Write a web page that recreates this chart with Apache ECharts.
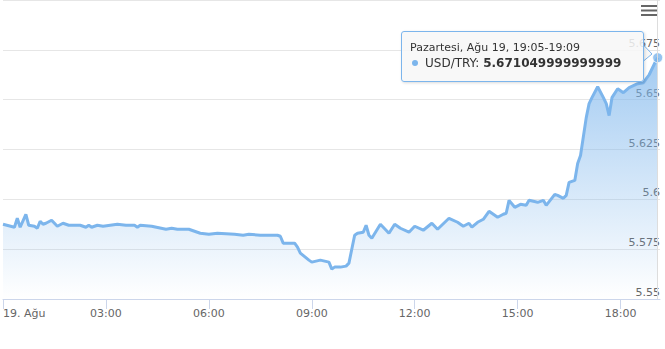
<!DOCTYPE html>
<html>
<head>
<meta charset="utf-8">
<script src="https://cdn.jsdelivr.net/npm/echarts@6/dist/echarts.min.js"></script>
<style>
html,body{margin:0;padding:0;background:#fff;}
#chart{width:665px;height:349px;}
</style>
</head>
<body>
<div id="chart"></div>
<script>
// ---- data (USD/TRY, 19 Ağu) ----
const times = ["00:00","00:20","00:25","00:30","00:40","00:45","00:55","01:00","01:05","01:10","01:15","01:25","01:35","01:45","01:55","02:15","02:25","02:30","02:35","02:45","02:55","03:20","03:35","03:50","03:55","04:00","04:20","04:45","04:55","05:05","05:25","05:35","05:45","06:00","06:15","06:45","07:00","07:10","07:30","08:00","08:05","08:10","08:30","08:35","08:40","08:55","09:00","09:15","09:30","09:35","09:40","09:50","10:00","10:05","10:15","10:20","10:30","10:35","10:40","10:45","11:00","11:15","11:25","11:35","11:50","12:00","12:15","12:30","12:40","13:00","13:15","13:25","13:35","13:40","13:50","14:00","14:10","14:25","14:35","14:40","14:45","14:55","15:05","15:15","15:20","15:35","15:45","15:50","16:05","16:10","16:20","16:25","16:30","16:40","16:45","16:50","17:00","17:05","17:10","17:20","17:30","17:35","17:40","17:45","17:55","18:05","18:15","18:30","18:40","18:50","19:00","19:05"];
const values = [5.5875,5.586,5.5905,5.586,5.5925,5.587,5.5865,5.5855,5.589,5.5875,5.588,5.5895,5.5865,5.588,5.587,5.587,5.586,5.587,5.586,5.587,5.5865,5.5875,5.587,5.587,5.586,5.587,5.5865,5.585,5.5855,5.585,5.585,5.584,5.583,5.5825,5.583,5.5825,5.582,5.5825,5.582,5.582,5.5815,5.578,5.578,5.576,5.573,5.5695,5.5685,5.5695,5.5685,5.565,5.566,5.566,5.5665,5.568,5.582,5.583,5.5835,5.587,5.582,5.5805,5.5875,5.583,5.5875,5.5855,5.5835,5.5865,5.5845,5.588,5.585,5.5905,5.5885,5.5865,5.588,5.586,5.5885,5.59,5.594,5.591,5.5925,5.593,5.5995,5.596,5.5975,5.597,5.5995,5.5985,5.5995,5.597,5.6025,5.602,5.6005,5.602,5.6085,5.6095,5.618,5.622,5.641,5.648,5.651,5.6565,5.651,5.648,5.642,5.651,5.6555,5.6535,5.656,5.658,5.6585,5.6625,5.6685,5.671049999999999];
const xTickLabels = ["19. Ağu","03:00","06:00","09:00","12:00","15:00","18:00"];
const seriesName = "USD/TRY";
const tooltipHeader = "Pazartesi, Ağu 19, 19:05-19:09";
const xMaxTime = "19:09";
const yMin = 5.55, yMax = 5.7, yStep = 0.025;

const toMin = s => { const p = s.split(":"); return (+p[0]) * 60 + (+p[1]); };
const seriesData = times.map((t, i) => [toMin(t), values[i]]);
const last = seriesData[seriesData.length - 1];
const FONT = "'DejaVu Sans', sans-serif";

const chart = echarts.init(document.getElementById('chart'), null, {renderer: 'svg'});
chart.setOption({
  animation: false,
  backgroundColor: '#ffffff',
  grid: {left: 1, right: 5, top: -1, bottom: 50, containLabel: false},
  xAxis: {
    type: 'value', min: 0, max: toMin(xMaxTime), interval: 180,
    axisLine: {show: true, lineStyle: {color: '#ccd6eb', width: 1}},
    axisTick: {show: true, length: 10, lineStyle: {color: '#ccd6eb'}},
    splitLine: {show: false},
    axisLabel: {
      color: '#666666', fontSize: 11, fontFamily: FONT, margin: 9,
      showMaxLabel: false, alignMinLabel: 'left',
      formatter: v => { const i = Math.round(v / 180); return (v % 180 === 0 && xTickLabels[i]) ? xTickLabels[i] : ''; }
    }
  },
  yAxis: {
    type: 'value', position: 'right', min: yMin, max: yMax, interval: yStep,
    axisLine: {show: false}, axisTick: {show: false},
    splitLine: {show: true, lineStyle: {color: '#e6e6e6', width: 1}},
    axisLabel: {
      inside: true, color: '#666666', fontSize: 11, fontFamily: FONT,
      align: 'right', verticalAlign: 'bottom', margin: 0, padding: [0, 0, 1, 0],
      showMaxLabel: false,
      formatter: v => String(Number(v.toFixed(3)))
    }
  },
  tooltip: {
    trigger: 'item', triggerOn: 'none', alwaysShowContent: true,
    position: [401, 31],
    backgroundColor: 'rgba(247,247,247,0.85)',
    borderColor: '#7cb5ec', borderWidth: 1, borderRadius: 3,
    padding: [9, 8, 10, 8],
    extraCssText: 'box-shadow:1px 1px 3px rgba(0,0,0,0.15);width:243px;box-sizing:border-box;border-color:#7cb5ec !important;',
    formatter: () =>
      '<div style="font-family:' + FONT.replace(/'/g, '') + ';color:#333;white-space:nowrap">' +
      '<div style="font-size:11px;line-height:14px">' + tooltipHeader + '</div>' +
      '<div style="font-size:12px;line-height:16px">' +
      '<span style="display:inline-block;width:6px;height:6px;border-radius:3px;background:#7cb5ec;margin-left:2px;margin-right:7px;vertical-align:1px"></span>' +
      seriesName + ': <b>' + last[1] + '</b></div></div>'
  },
  series: [
    {
      name: seriesName, type: 'line', data: seriesData,
      showSymbol: false, smooth: false, silent: true,
      lineStyle: {color: '#7cb5ec', width: 3},
      itemStyle: {color: '#7cb5ec'},
      areaStyle: {
        color: new echarts.graphic.LinearGradient(0, 0, 0, 1, [
          {offset: 0, color: 'rgba(124,181,236,1)'},
          {offset: 1, color: 'rgba(124,181,236,0)'}
        ], false)
      },
      z: 2
    },
    {
      name: seriesName, type: 'scatter', data: [last],
      symbol: 'circle', symbolSize: 10,
      itemStyle: {color: '#7cb5ec', borderColor: '#ffffff', borderWidth: 1},
      emphasis: {scale: false},
      markLine: {
        silent: true, symbol: 'none', label: {show: false},
        lineStyle: {color: '#dddddd', width: 1, type: 'solid'},
        data: [{xAxis: last[0]}]
      },
      z: 3
    }
  ],
  graphic: [
    {type: 'rect', shape: {x: 641, y: 5, width: 16, height: 2}, style: {fill: '#666666'}},
    {type: 'rect', shape: {x: 641, y: 9.5, width: 16, height: 2}, style: {fill: '#666666'}},
    {type: 'rect', shape: {x: 641, y: 14, width: 16, height: 2}, style: {fill: '#666666'}},
    {type: 'polygon', z: 100, shape: {points: [[643, 45], [652, 54], [643, 61]]}, style: {fill: 'rgba(247,247,247,0.95)'}},
    {type: 'polyline', z: 101, shape: {points: [[643.5, 45], [652, 54], [643.5, 61]]}, style: {stroke: '#7cb5ec', lineWidth: 1, fill: null}}
  ]
});
chart.dispatchAction({type: 'showTip', seriesIndex: 1, dataIndex: 0});
</script>
</body>
</html>
